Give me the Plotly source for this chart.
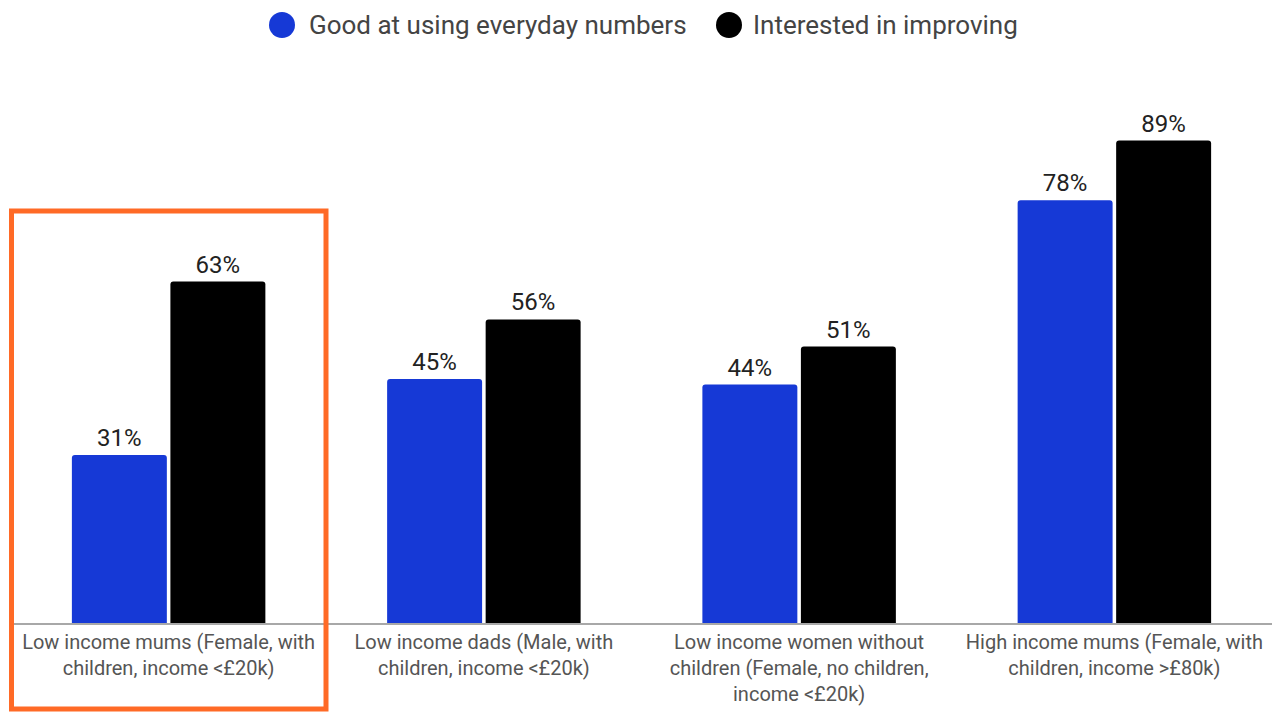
import plotly.graph_objects as go

categories = [
    "Low income mums (Female, with<br>children, income <£20k)",
    "Low income dads (Male, with<br>children, income <£20k)",
    "Low income women without<br>children (Female, no children,<br>income <£20k)",
    "High income mums (Female, with<br>children, income >£80k)",
]
good_at_numbers = [31, 45, 44, 78]
interested = [63, 56, 51, 89]
series_names = ["Good at using everyday numbers", "Interested in improving"]
colors = ["#1639D6", "#000000"]

FONT = "Roboto, Arial, sans-serif"
W, H = 1277, 713
L, R, T, B = 11, 5, 81, 90


def px_x(p):
    return (p - L) / (W - L - R)


def px_y(p):
    return (H - B - p) / (H - T - B)


fig = go.Figure()
for name, vals, col in zip(series_names, [good_at_numbers, interested], colors):
    fig.add_trace(go.Bar(
        x=categories, y=vals, name=name, marker=dict(color=col, line=dict(width=0)),
        text=[f"{v}%" for v in vals], textposition="outside",
        textfont=dict(family=FONT, size=24, color="#222222"),
        cliponaxis=False, showlegend=False,
    ))

# custom legend (large circular markers)
legend_items = [(282, 307), (729, 751)]
for (cx, tx), name, col in zip(legend_items, series_names, colors):
    fig.add_shape(type="circle", xref="paper", yref="paper",
                  x0=px_x(cx - 13), x1=px_x(cx + 13), y0=px_y(25 + 13), y1=px_y(25 - 13),
                  fillcolor=col, line=dict(width=0))
    fig.add_annotation(xref="paper", yref="paper", x=px_x(tx), y=px_y(25),
                       xanchor="left", yanchor="middle", showarrow=False, text=name,
                       font=dict(family=FONT, size=26, color="#444444"))

# highlight box
fig.add_shape(type="rect", xref="paper", yref="paper",
              x0=px_x(11.5), x1=px_x(326), y0=px_y(709), y1=px_y(211),
              line=dict(color="#FF6A26", width=5), fillcolor="rgba(0,0,0,0)")

fig.update_layout(
    width=W, height=H,
    margin=dict(l=L, r=R, t=T, b=B),
    paper_bgcolor="white", plot_bgcolor="white",
    barmode="group", bargap=0.375, bargroupgap=0.036, barcornerradius=3,
    font=dict(family=FONT, color="#555555"),
    showlegend=False,
    xaxis=dict(showline=True, linecolor="#a8a8a8", linewidth=2, ticks="",
               tickfont=dict(family=FONT, size=20, color="#555555"), showgrid=False),
    yaxis=dict(range=[0, 100], visible=False, showgrid=False, zeroline=False),
)

fig.write_html("out.html")
